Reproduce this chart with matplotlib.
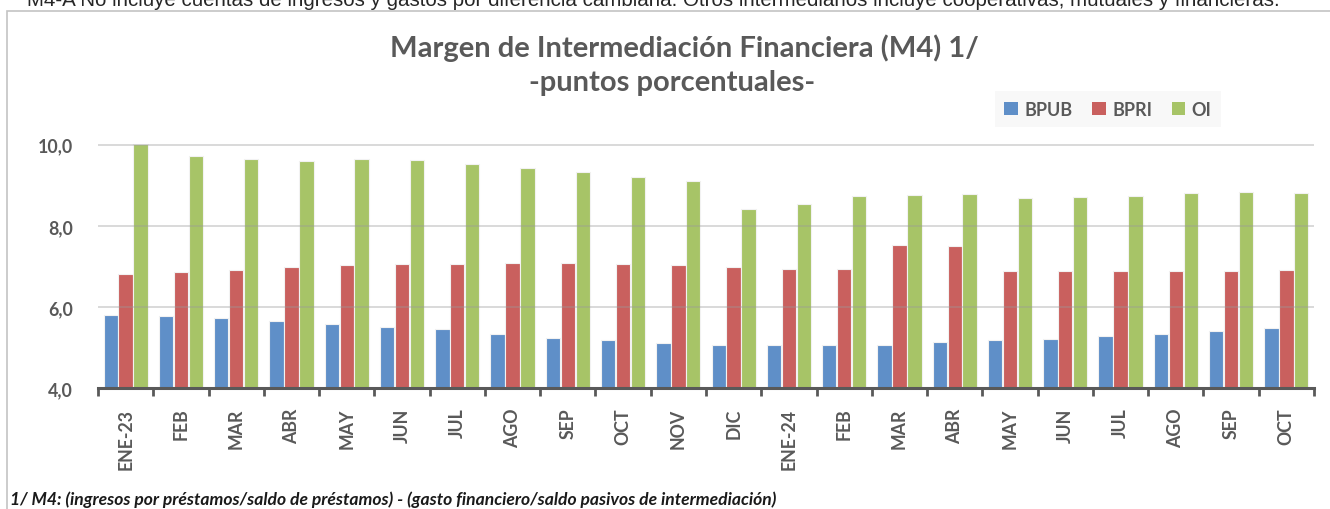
import matplotlib
matplotlib.use('Agg')
import matplotlib.pyplot as plt
import numpy as np
from matplotlib.patches import Rectangle, Patch

# datos mensuales del margen M4
meses = ['ENE-23', 'FEB', 'MAR', 'ABR', 'MAY', 'JUN', 'JUL', 'AGO', 'SEP', 'OCT', 'NOV', 'DIC',
         'ENE-24', 'FEB', 'MAR', 'ABR', 'MAY', 'JUN', 'JUL', 'AGO', 'SEP', 'OCT']
bpub = [5.81, 5.78, 5.73, 5.65, 5.58, 5.51, 5.45, 5.34, 5.25, 5.18, 5.12, 5.06,
        5.06, 5.07, 5.06, 5.15, 5.18, 5.21, 5.28, 5.34, 5.42, 5.49]
bpri = [6.81, 6.86, 6.91, 6.98, 7.03, 7.05, 7.07, 7.09, 7.09, 7.07, 7.04, 7.00,
        6.95, 6.95, 7.53, 7.50, 6.88, 6.88, 6.88, 6.88, 6.90, 6.91]
oi = [10.02, 9.71, 9.66, 9.59, 9.66, 9.62, 9.52, 9.42, 9.32, 9.21, 9.11, 8.41,
      8.53, 8.74, 8.75, 8.79, 8.68, 8.70, 8.73, 8.80, 8.83, 8.80]
series = ['BPUB', 'BPRI', 'OI']
colores = ['#5F8FC8', '#C9605E', '#A7C467']

W, H = 1330, 510
gris = '#595959'
fuente = ['Lato', 'DejaVu Sans']
peso = 'bold'

fig = plt.figure(figsize=(W / 100, H / 100), dpi=100)

def fx(px):
    return px / W

def fy(py):
    return 1 - py / H

# marco del area del grafico
fig.patches.append(Rectangle((fx(7), -0.05), 1.05, fy(12) + 0.05, transform=fig.transFigure,
                             facecolor='none', edgecolor='#c4c4c4', lw=1.2))

ax = fig.add_axes([fx(98), 1 - 389.3 / H, fx(1314 - 98), 6.1 * 40.6 / H])
x = np.arange(len(meses))
ancho = 0.26
paso = 0.27
for i, (vals, col) in enumerate(zip([bpub, bpri, oi], colores)):
    ax.bar(x + (i - 1) * paso, np.array(vals) - 4, width=ancho, bottom=4, color=col,
           edgecolor='#f2f2f2', linewidth=0.8, zorder=2)

ax.set_xlim(-0.5, len(meses) - 0.5)
ax.set_ylim(4, 10.1)
ax.set_yticks([4, 6, 8, 10])
ax.set_yticklabels(['4,0', '6,0', '8,0', '10,0'])
for v in [6, 8, 10]:
    ax.axhline(v, color='#9a9a9a', lw=1.3, alpha=0.4, zorder=3)

ax.set_xticks(x)
ax.set_xticklabels(meses, rotation=90)
ax.set_xticks(np.arange(-0.5, len(meses)), minor=True)
ax.tick_params(axis='x', which='major', length=0, pad=14)
ax.tick_params(axis='x', which='minor', length=6, width=2, color=gris, direction='out')
ax.tick_params(axis='y', length=0, pad=18)
for lab in ax.get_xticklabels() + ax.get_yticklabels():
    lab.set_family(fuente)
    lab.set_fontweight(peso)
    lab.set_fontsize(12.8)
    lab.set_color(gris)

for s in ['top', 'right', 'left']:
    ax.spines[s].set_visible(False)
ax.spines['bottom'].set_color(gris)
ax.spines['bottom'].set_linewidth(2.2)
ax.spines['bottom'].set_zorder(4)

# leyenda
handles = [Patch(facecolor=c, edgecolor='none') for c in colores]
leg = fig.legend(handles, series, loc='center', bbox_to_anchor=(fx(1108), fy(110)), ncol=3,
                 frameon=True, fancybox=False, handlelength=0.75, handleheight=0.75,
                 handletextpad=0.35, columnspacing=1.1, borderpad=0.5,
                 prop={'family': fuente, 'weight': peso, 'size': 13})
leg.get_frame().set_facecolor('#f7f7f7')
leg.get_frame().set_edgecolor('none')
for t in leg.get_texts():
    t.set_color(gris)

# titulos
fig.text(fx(684), fy(57), 'Margen de Intermediación Financiera (M4) 1/', ha='center', va='baseline',
         family=fuente, weight=peso, size=21, color=gris)
fig.text(fx(672), fy(91), '-puntos porcentuales-', ha='center', va='baseline',
         family=fuente, weight=peso, size=21, color=gris)

# notas
fig.text(fx(27), fy(6), 'M4-A No incluye cuentas de ingresos y gastos por diferencia cambiaria. '
         'Otros intermediarios incluye cooperativas, mutuales y financieras.',
         ha='left', va='baseline', family=['Liberation Sans Narrow', 'Liberation Sans', 'DejaVu Sans'],
         size=14.8, color='#262626')
fig.text(fx(10), fy(505), '1/ M4: (ingresos por préstamos/saldo de préstamos) - '
         '(gasto financiero/saldo pasivos de intermediación)',
         ha='left', va='baseline', family=fuente, weight=peso, style='italic', size=12.6,
         color='#1a1a1a')

fig.savefig('out.png', dpi=100)
